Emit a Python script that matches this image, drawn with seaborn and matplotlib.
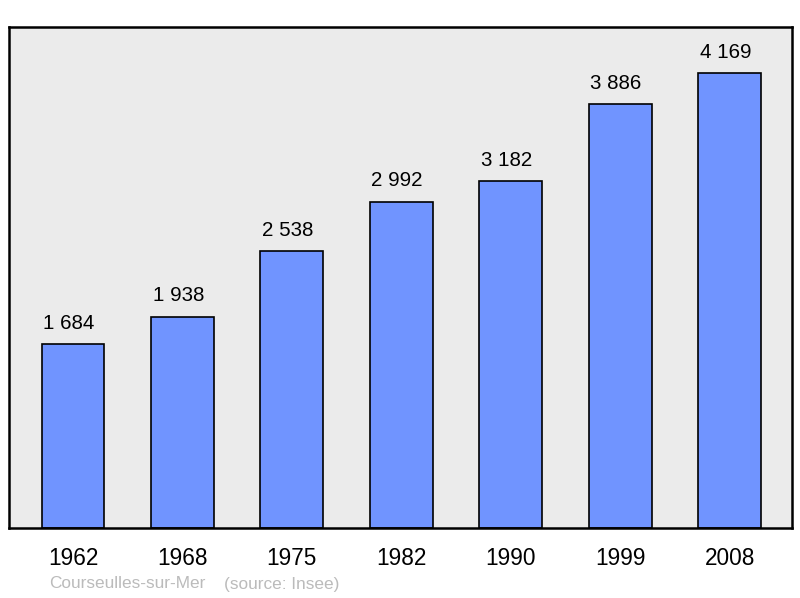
import matplotlib
matplotlib.use("Agg")
import matplotlib.pyplot as plt
import seaborn as sns
import pandas as pd

annees = ["1962", "1968", "1975", "1982", "1990", "1999", "2008"]
population = [1684, 1938, 2538, 2992, 3182, 3886, 4169]
etiquettes = ["1 684", "1 938", "2 538", "2 992", "3 182", "3 886", "4 169"]

COULEUR_BARRE = "#7094ff"
FOND = "#ebebeb"

sns.set_style("white")
plt.rcParams["font.family"] = ["Liberation Sans", "DejaVu Sans"]

df = pd.DataFrame({"annee": annees, "population": population})

fig = plt.figure(figsize=(8, 5.98), dpi=100)
ax = fig.add_axes([9 / 800, 70 / 598, 783 / 800, 501 / 598])
ax.set_facecolor(FOND)

sns.barplot(data=df, x="annee", y="population", color=COULEUR_BARRE,
            saturation=1, width=0.575, edgecolor="black", linewidth=1.2, ax=ax)

for i, (v, txt) in enumerate(zip(population, etiquettes)):
    ax.annotate(txt, (i, v), xytext=(-3, 8), textcoords="offset points",
                ha="center", va="bottom", fontsize=14.8, color="black")

ax.set_xlim(-0.585, 6.57)
ax.set_ylim(0, 4592)
ax.set_xlabel("")
ax.set_ylabel("")
ax.set_yticks([])
ax.tick_params(axis="x", length=0, pad=14, labelsize=16.3, labelcolor="black")
for s in ax.spines.values():
    s.set_visible(True)
    s.set_linewidth(1.8)
    s.set_color("black")

fig.text(49 / 800, 1 - 584 / 598, "Courseulles-sur-Mer", color="#bbbbbb",
         fontsize=12.4, va="center", ha="left")
fig.text(224 / 800, 1 - 584 / 598, "(source: Insee)", color="#bbbbbb",
         fontsize=12.4, va="center", ha="left")

fig.savefig("out.png", dpi=100)
